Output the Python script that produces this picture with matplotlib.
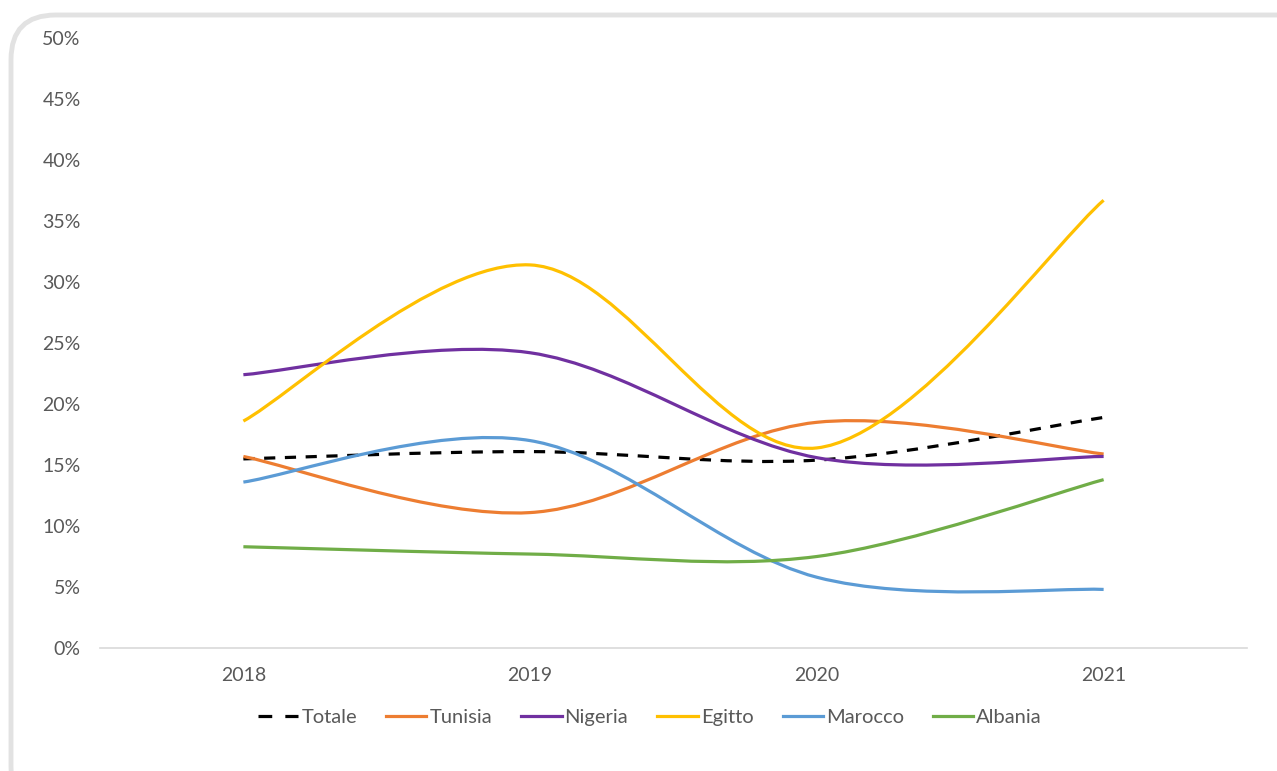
import matplotlib.pyplot as plt
from matplotlib.path import Path
from matplotlib.patches import PathPatch, FancyBboxPatch
from matplotlib.lines import Line2D

plt.rcParams['font.family'] = ['Lato', 'DejaVu Sans']

anni = ["2018", "2019", "2020", "2021"]

totale = [15.5, 16.1, 15.4, 18.9]
tunisia = [15.7, 11.1, 18.5, 15.9]
nigeria = [22.4, 24.2, 15.6, 15.7]
egitto = [18.6, 31.4, 16.4, 36.7]
marocco = [13.6, 17.0, 5.8, 4.8]
albania = [8.3, 7.7, 7.5, 13.8]

serie = [
    ("Totale", totale, "black", (0, (3.5, 3))),
    ("Tunisia", tunisia, "#ED7D31", "-"),
    ("Nigeria", nigeria, "#7030A0", "-"),
    ("Egitto", egitto, "#FFC000", "-"),
    ("Marocco", marocco, "#5B9BD5", "-"),
    ("Albania", albania, "#70AD47", "-"),
]


def smooth_path(xs, ys):
    # curva "smussata" stile Excel (Catmull-Rom come Bezier cubiche)
    pts = list(zip(xs, ys))
    n = len(pts)
    verts = [pts[0]]
    codes = [Path.MOVETO]
    for i in range(n - 1):
        p0 = pts[max(i - 1, 0)]
        p1 = pts[i]
        p2 = pts[i + 1]
        p3 = pts[min(i + 2, n - 1)]
        c1 = (p1[0] + (p2[0] - p0[0]) / 6, p1[1] + (p2[1] - p0[1]) / 6)
        c2 = (p2[0] - (p3[0] - p1[0]) / 6, p2[1] - (p3[1] - p1[1]) / 6)
        verts += [c1, c2, p2]
        codes += [Path.CURVE4] * 3
    return Path(verts, codes)


fig = plt.figure(figsize=(12.77, 7.71), dpi=100)
W, H = 1277, 771

# cornice arrotondata
frame = FancyBboxPatch((11 / W, -40 / H), 1.2, 1 - 15 / H + 40 / H,
                       boxstyle="round,pad=0,rounding_size=0.035",
                       transform=fig.transFigure, facecolor="white",
                       edgecolor="#e2e2e2", linewidth=3.5, mutation_aspect=W / H,
                       zorder=-5)
fig.patches.append(frame)

ax = fig.add_axes([100 / W, 1 - 648 / H, (1247 - 100) / W, (648 - 38) / H])
ax.set_facecolor("none")
ax.set_zorder(2)

x = list(range(len(anni)))
handles = []
for nome, vals, col, ls in serie:
    patch = PathPatch(smooth_path(x, vals), fill=False, edgecolor=col,
                      linewidth=2.3, linestyle=ls, capstyle="butt")
    ax.add_patch(patch)
    leg_ls = (0, (4.3, 4.1)) if ls != "-" else ls
    handles.append(Line2D([], [], color=col, linewidth=2.3, linestyle=leg_ls, label=nome))

ax.set_xlim(-0.5, 3.5)
ax.set_ylim(0, 50)
ax.set_xticks(x)
ax.set_xticklabels(anni)
ax.set_yticks(range(0, 51, 5))
ax.set_yticklabels(["{}%".format(v) for v in range(0, 51, 5)])

for s in ["top", "right", "left"]:
    ax.spines[s].set_visible(False)
ax.spines["bottom"].set_color("#d9d9d9")
ax.spines["bottom"].set_linewidth(1.2)
ax.tick_params(axis="both", length=0, labelsize=14, labelcolor="#595959")
ax.tick_params(axis="y", pad=14)
ax.tick_params(axis="x", pad=14)

fig.legend(handles=handles, loc="center", bbox_to_anchor=(650 / W, 1 - 717 / H),
           ncol=6, frameon=False, fontsize=14.5, labelcolor="#595959",
           handlelength=2.0, handletextpad=0.15, columnspacing=1.45)

fig.savefig("out.png", dpi=100)
